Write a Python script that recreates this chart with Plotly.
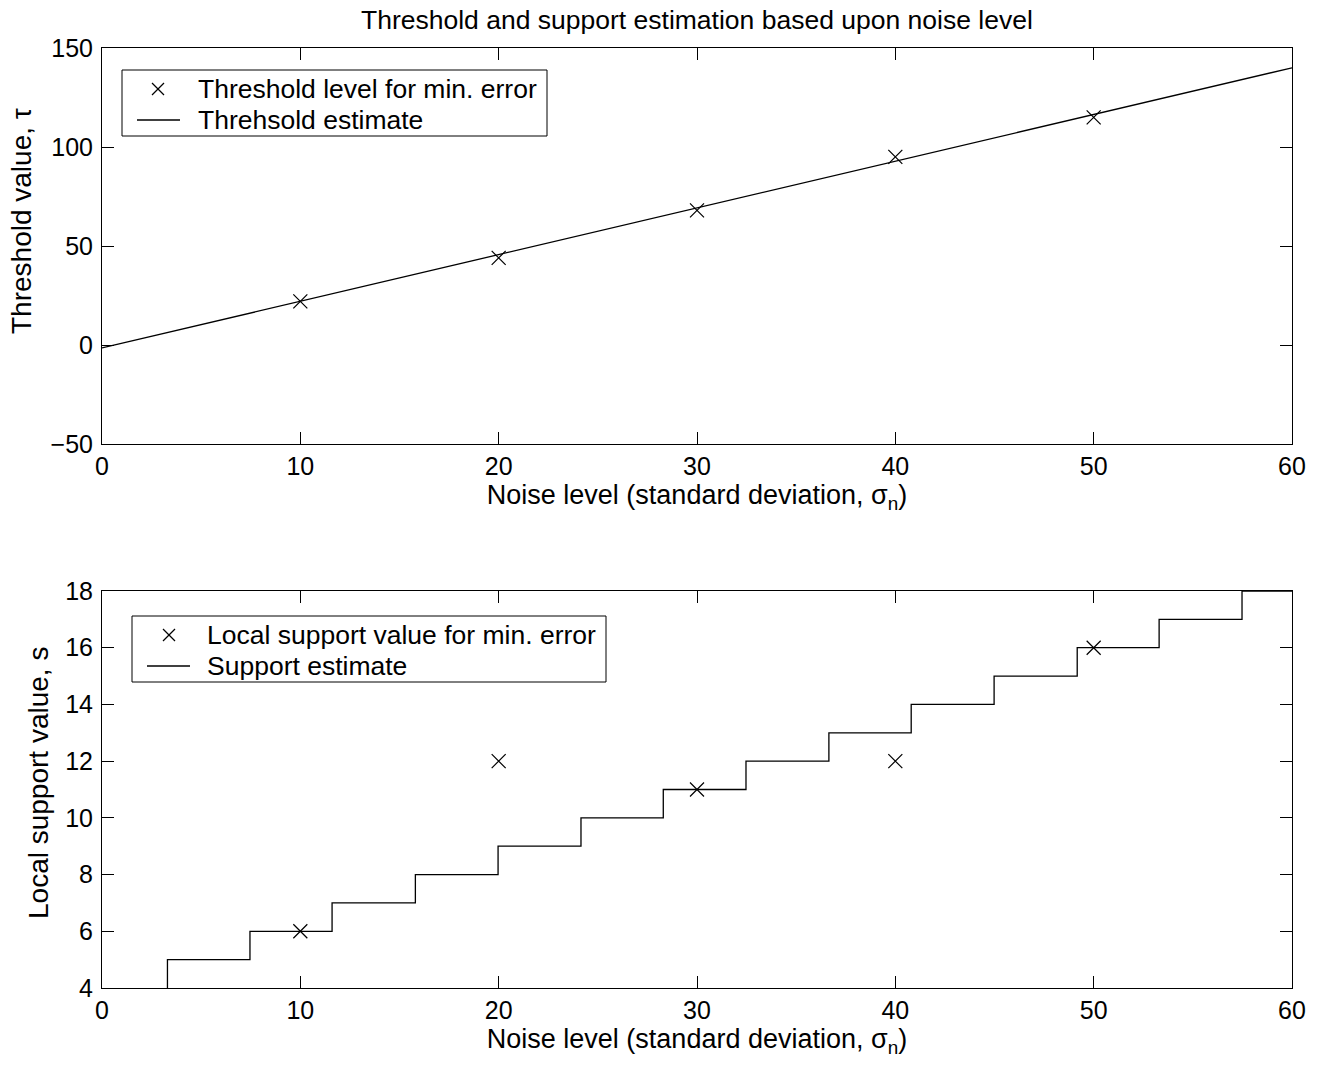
import plotly.graph_objects as go

# ---- data ----
noise_levels = [10, 20, 30, 40, 50]
threshold_min_error = [22, 44, 68, 95, 115]
threshold_est_x = [0, 60]
threshold_est_y = [-1.5, 140]

support_min_error = [6, 12, 11, 12, 16]
support_step_x = [3.3, 3.3, 7.46, 11.6, 15.8, 19.97, 24.15, 28.3, 32.47,
                  36.65, 40.8, 44.98, 49.17, 53.3, 57.48, 60]
support_step_y = [4, 5, 6, 7, 8, 9, 10, 11, 12, 13, 14, 15, 16, 17, 18, 18]

x_ticks = [0, 10, 20, 30, 40, 50, 60]
y_ticks_top = [-50, 0, 50, 100, 150]
y_ticks_bot = [4, 6, 8, 10, 12, 14, 16, 18]

legend_top = ["Threshold level for min. error", "Threhsold estimate"]
legend_bot = ["Local support value for min. error", "Support estimate"]

FONT = "Liberation Sans, Arial, Helvetica, sans-serif"
W, H = 1321, 1066


def px(x):
    return x / W


def py(y):
    return 1 - y / H


fig = go.Figure()

marker_style = dict(symbol="x-thin", size=14, color="black",
                    line=dict(color="black", width=1.2))

fig.add_trace(go.Scatter(x=noise_levels, y=threshold_min_error, mode="markers",
                         marker=marker_style, name=legend_top[0],
                         xaxis="x", yaxis="y", showlegend=False))
fig.add_trace(go.Scatter(x=threshold_est_x, y=threshold_est_y, mode="lines",
                         line=dict(color="black", width=1.3),
                         name=legend_top[1], xaxis="x", yaxis="y", showlegend=False))
fig.add_trace(go.Scatter(x=noise_levels, y=support_min_error, mode="markers",
                         marker=marker_style, name=legend_bot[0],
                         xaxis="x2", yaxis="y2", showlegend=False))
fig.add_trace(go.Scatter(x=support_step_x, y=support_step_y, mode="lines",
                         line=dict(color="black", width=1.3, shape="hv"),
                         name=legend_bot[1], xaxis="x2", yaxis="y2", showlegend=False))

xdom = [px(102), px(1292)]
ydom_top = [py(444), py(48)]
ydom_bot = [py(988), py(591)]

axis_common = dict(showline=True, linecolor="black", linewidth=1, mirror="ticks",
                   ticks="inside", ticklen=12, tickcolor="black", tickwidth=1,
                   showgrid=False, zeroline=False, automargin=False,
                   tickfont=dict(family=FONT, size=25, color="black"))

xtitle = "Noise level (standard deviation, σ<sub>n</sub>)"
xt_font = dict(family=FONT, size=27, color="black")
yt_font = dict(family=FONT, size=28, color="black")
leg_font = dict(family=FONT, size=26.5, color="black")

shapes = []
annotations = [dict(text="Threshold and support estimation based upon noise level",
                    x=(xdom[0] + xdom[1]) / 2, y=py(20), xref="paper", yref="paper",
                    xanchor="center", yanchor="middle", showarrow=False,
                    font=dict(family=FONT, size=26.5, color="black")),
               dict(text="Threshold value, τ", textangle=-90,
                    x=px(22), y=py(221), xref="paper", yref="paper",
                    xanchor="center", yanchor="middle", showarrow=False, font=yt_font),
               dict(text="Local support value, s", textangle=-90,
                    x=px(38), y=py(783), xref="paper", yref="paper",
                    xanchor="center", yanchor="middle", showarrow=False, font=yt_font)]


def add_legend(box, row1, row2, mark_x, line_x0, line_x1, text_x, labels):
    x0, y0, x1, y1 = box
    shapes.append(dict(type="rect", xref="paper", yref="paper",
                       x0=px(x0), x1=px(x1), y0=py(y1), y1=py(y0),
                       line=dict(color="black", width=1), fillcolor="white", layer="above"))
    s = 6
    shapes.append(dict(type="line", xref="paper", yref="paper",
                       x0=px(mark_x - s), x1=px(mark_x + s), y0=py(row1 - s), y1=py(row1 + s),
                       line=dict(color="black", width=1.2), layer="above"))
    shapes.append(dict(type="line", xref="paper", yref="paper",
                       x0=px(mark_x - s), x1=px(mark_x + s), y0=py(row1 + s), y1=py(row1 - s),
                       line=dict(color="black", width=1.2), layer="above"))
    shapes.append(dict(type="line", xref="paper", yref="paper",
                       x0=px(line_x0), x1=px(line_x1), y0=py(row2), y1=py(row2),
                       line=dict(color="black", width=1.3), layer="above"))
    for lab, ry in zip(labels, [row1, row2]):
        annotations.append(dict(text=lab, x=px(text_x), y=py(ry), xref="paper", yref="paper",
                                xanchor="left", yanchor="middle", showarrow=False,
                                font=leg_font))


add_legend((122, 70, 547, 136), 89, 120, 158, 137, 180, 196, legend_top)
add_legend((132, 616, 606, 682), 635, 666, 169, 147, 190, 205, legend_bot)

fig.update_layout(
    width=W, height=H,
    margin=dict(l=0, r=0, t=0, b=0, autoexpand=False),
    paper_bgcolor="white", plot_bgcolor="white",
    font=dict(family=FONT, size=27, color="black"),
    showlegend=False,
    xaxis=dict(domain=xdom, range=[0, 60], tickvals=x_ticks,
               anchor="y", title=dict(text=xtitle, font=xt_font, standoff=4),
               **axis_common),
    yaxis=dict(domain=ydom_top, range=[-50, 150], tickvals=y_ticks_top,
               anchor="x", ticklabelstandoff=3, **axis_common),
    xaxis2=dict(domain=xdom, range=[0, 60], tickvals=x_ticks,
                anchor="y2", title=dict(text=xtitle, font=xt_font, standoff=4),
                **axis_common),
    yaxis2=dict(domain=ydom_bot, range=[4, 18], tickvals=y_ticks_bot,
                anchor="x2", ticklabelstandoff=3, **axis_common),
    shapes=shapes,
    annotations=annotations,
)

fig.write_html("out.html")
